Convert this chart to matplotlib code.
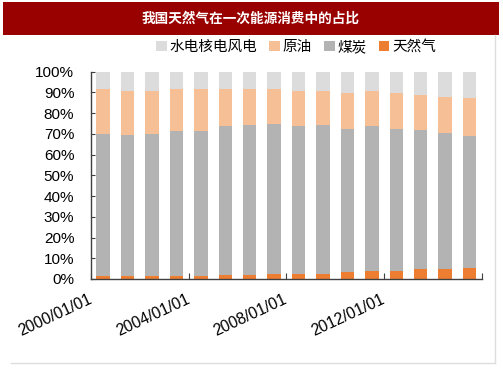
import numpy as np
import matplotlib
matplotlib.use("Agg")
import matplotlib.pyplot as plt
from matplotlib.patches import Rectangle
from matplotlib.lines import Line2D
from matplotlib.transforms import ScaledTranslation

plt.rcParams['font.family'] = ['Liberation Sans', 'Noto Sans CJK SC', 'DejaVu Sans']

# data (percent of primary energy consumption), 2000-2015
years = list(range(2000, 2016))
gas = [1.6, 1.6, 1.6, 1.6, 1.6, 1.7, 2.0, 2.2, 2.4, 2.5, 3.3, 3.9, 4.0, 4.6, 5.0, 5.3]
coal = [68.4, 67.8, 68.4, 69.9, 69.9, 72.2, 72.2, 72.5, 71.5, 71.7, 69.0, 70.0, 68.5, 67.2, 65.5, 63.6]
oil = [21.7, 21.3, 20.8, 20.1, 20.1, 17.7, 17.4, 16.9, 16.9, 16.3, 17.6, 16.9, 17.0, 17.2, 17.4, 18.4]
hydro = [8.3, 9.3, 9.2, 8.4, 8.4, 8.4, 8.4, 8.4, 9.2, 9.5, 10.1, 9.2, 10.5, 11.0, 12.1, 12.7]
tick_labels = ['2000/01/01', '2004/01/01', '2008/01/01', '2012/01/01', '']

title = '我国天然气在一次能源消费中的占比'
names = ['天然气', '煤炭', '原油', '水电核电风电']
colors = ['#ed7d31', '#b3b3b3', '#f7bf96', '#dcdcdc']

W, H = 503, 378
fig = plt.figure(figsize=(W / 100, H / 100), dpi=100)
ax = fig.add_axes([91 / W, 1 - 279 / H, (481.7 - 91) / W, (279 - 71.7) / H])

x = np.arange(len(years))
bottom = np.zeros(len(years))
handles = []
for vals, name, c in zip([gas, coal, oil, hydro], names, colors):
    v = np.array(vals) / 100
    b = ax.bar(x, v, 0.55, bottom=bottom, color=c, label=name, zorder=2)
    handles.append(b)
    bottom += v

ax.set_xlim(-0.5, 15.5)
ax.set_ylim(0, 1)
ax.set_yticks(np.linspace(0, 1, 11))
ax.set_yticklabels([f'{int(round(t * 100))}%' for t in np.linspace(0, 1, 11)], fontsize=11)
ax.set_xticks([-0.5, 3.5, 7.5, 11.5, 15.5])
ax.set_xticklabels(tick_labels, fontsize=11.3, rotation=25, ha='right', va='center',
                   rotation_mode='anchor')
offset = ScaledTranslation(0.14, -0.11, fig.dpi_scale_trans)
for lab in ax.get_xticklabels():
    lab.set_transform(lab.get_transform() + offset)

for s in ['top', 'right']:
    ax.spines[s].set_visible(False)
for s in ['left', 'bottom']:
    ax.spines[s].set_color('#404040')
    ax.spines[s].set_linewidth(1.0)
    ax.spines[s].set_zorder(3)
ax.tick_params(axis='y', direction='in', length=3, color='#404040', pad=12)
ax.tick_params(axis='x', direction='in', length=4, color='#404040', pad=14)

# title bar
fig.patches.append(Rectangle((3 / W, 1 - 35 / H), 496 / W, 33.5 / H, transform=fig.transFigure,
                             facecolor='#990000', edgecolor='none'))
fig.text(251 / W, 1 - 18.5 / H, title, color='white', fontsize=9.8, fontweight='bold',
         ha='center', va='center', family=['Noto Sans CJK SC', 'DejaVu Sans'])

# frame lines
fig.lines.append(Line2D([11 / W, 495 / W], [1 - 363 / H, 1 - 363 / H], transform=fig.transFigure,
                        color='#dddddd', lw=1))
fig.lines.append(Line2D([495 / W, 495 / W], [1 - 363 / H, 1 - 35 / H], transform=fig.transFigure,
                        color='#dddddd', lw=1))

leg = fig.legend(handles[::-1], names[::-1], loc='center', ncol=4,
                 bbox_to_anchor=(296 / W, 1 - 47 / H), frameon=False,
                 prop={'family': ['Noto Sans CJK SC', 'DejaVu Sans'], 'size': 10.5},
                 handlelength=0.75, handleheight=0.75, handletextpad=0.2, columnspacing=0.8,
                 borderaxespad=0, borderpad=0)

fig.savefig('out.png', dpi=100)
